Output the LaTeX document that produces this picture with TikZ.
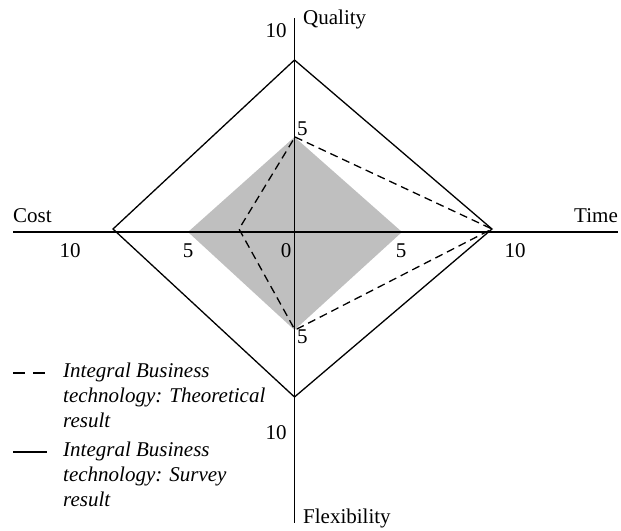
\documentclass[tikz,border=0pt]{standalone}
\usepackage{fontspec}
\setmainfont{Liberation Serif}
\begin{document}
\begin{tikzpicture}[x=1pt,y=-1pt,
  axis/.style={line width=1.3pt},
  survey/.style={line width=1.3pt},
  theory/.style={line width=1.3pt,dash pattern=on 8pt off 5pt},
  lbl/.style={inner sep=0pt,font=\fontsize{21}{25}\selectfont},
  legtxt/.style={inner sep=0pt,anchor=base west,font=\fontsize{21}{25}\selectfont\itshape}]
\useasboundingbox (0,0) rectangle (621,530);
% coordinates
\coordinate (axT) at (294.5,18);
\coordinate (axB) at (294.5,523);
\coordinate (axL) at (13,232);
\coordinate (axR) at (618,232);
\coordinate (sT) at (294.5,60);
\coordinate (sL) at (113,229);
\coordinate (sR) at (492,229);
\coordinate (sB) at (294.5,397);
\coordinate (gT) at (294.5,137);
\coordinate (gL) at (188,232);
\coordinate (gR) at (402,232);
\coordinate (gB) at (294.5,330);
\coordinate (dT) at (295,137);
\coordinate (dL) at (239,229);
\coordinate (dR) at (492,229);
\coordinate (dB) at (295,330);
% gray diamond
\fill[gray!50] (gT) -- (gR) -- (gB) -- (gL) -- cycle;
% axes
\draw[axis] (axT) -- (axB);
\draw[axis] (axL) -- (axR);
% survey
\draw[survey] (sT) -- (sR) -- (sB) -- (sL) -- cycle;
% theoretical
\draw[theory] (dT) -- (dR) -- (dB) -- (dL) -- cycle;
% labels
\node[lbl,anchor=base west] (q) at (303,24) {Quality};
\node[lbl,anchor=base] (q10) at (276,37) {10};
\node[lbl,anchor=base west] (q5) at (297,135) {5};
\node[lbl,anchor=base west] (c) at (13,222) {Cost};
\node[lbl,anchor=base] (c10) at (70,257) {10};
\node[lbl,anchor=base] (c5) at (188,257) {5};
\node[lbl,anchor=base] (z) at (286,257) {0};
\node[lbl,anchor=base] (t5) at (401,257) {5};
\node[lbl,anchor=base] (t10) at (515,257) {10};
\node[lbl,anchor=base east] (t) at (618,222) {Time};
\node[lbl,anchor=base west] (f5) at (297,343) {5};
\node[lbl,anchor=base] (f10) at (276,439) {10};
\node[lbl,anchor=base west] (f) at (303,523) {Flexibility};
% legend
\coordinate (l1a) at (13,373);
\coordinate (l1b) at (47,373);
\coordinate (l2a) at (13,452);
\coordinate (l2b) at (47,452);
\draw[line width=1.3pt,dash pattern=on 12pt off 8pt] (l1a) -- (l1b);
\draw[line width=1.3pt] (l2a) -- (l2b);
\node[legtxt] (lt1) at (63,377) {Integral Business};
\node[legtxt] (lt2) at (63,402) {technology: Theoretical};
\node[legtxt] (lt3) at (63,427) {result};
\node[legtxt] (ls1) at (63,456) {Integral Business};
\node[legtxt] (ls2) at (63,481) {technology: Survey};
\node[legtxt] (ls3) at (63,506) {result};
\end{tikzpicture}
\end{document}
